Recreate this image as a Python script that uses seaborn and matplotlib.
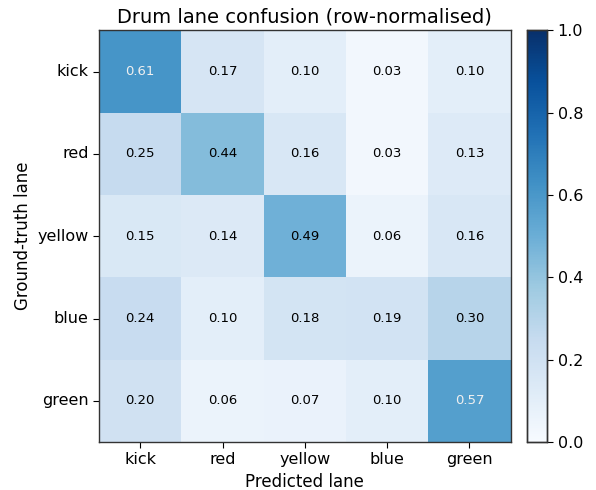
import numpy as np
import seaborn as sns
import matplotlib.pyplot as plt

lanes = ["kick", "red", "yellow", "blue", "green"]
kick_row = [0.61, 0.17, 0.10, 0.03, 0.10]
red_row = [0.25, 0.44, 0.16, 0.03, 0.13]
yellow_row = [0.15, 0.14, 0.49, 0.06, 0.16]
blue_row = [0.24, 0.10, 0.18, 0.19, 0.30]
green_row = [0.20, 0.06, 0.07, 0.10, 0.57]

cm = np.array([kick_row, red_row, yellow_row, blue_row, green_row])

fig = plt.figure(figsize=(5.96, 4.9), dpi=100)
ax = fig.add_axes([0.163, 0.098, 0.697, 0.84])
cax = fig.add_axes([0.884, 0.098, 0.034, 0.84])

sns.heatmap(cm, ax=ax, cbar_ax=cax, cmap="Blues", vmin=0, vmax=1,
            square=True, annot=False, xticklabels=lanes, yticklabels=lanes)

# annotate, white on dark cells
for i in range(cm.shape[0]):
    for j in range(cm.shape[1]):
        v = cm[i, j]
        ax.text(j + 0.5, i + 0.5, f"{v:.2f}", ha="center", va="center",
                fontsize=9.5, color="#f0f0f0" if v > 0.5 else "black")

for s in ax.spines.values():
    s.set_visible(True)
    s.set_linewidth(1.0)
    s.set_edgecolor("#333333")
ax.tick_params(axis="both", length=4, labelsize=11.5)
ax.tick_params(axis="y", rotation=0)
ax.set_title("Drum lane confusion (row-normalised)", fontsize=14)
ax.set_xlabel("Predicted lane", fontsize=12)
ax.set_ylabel("Ground-truth lane", fontsize=12)

cax.tick_params(labelsize=11.5, length=4)
cax.set_yticks([0, 0.2, 0.4, 0.6, 0.8, 1.0])
cax.set_yticklabels(["0.0", "0.2", "0.4", "0.6", "0.8", "1.0"])
for s in cax.spines.values():
    s.set_visible(True)
    s.set_linewidth(1.0)
    s.set_edgecolor("#333333")

plt.savefig("out.png", dpi=100)
